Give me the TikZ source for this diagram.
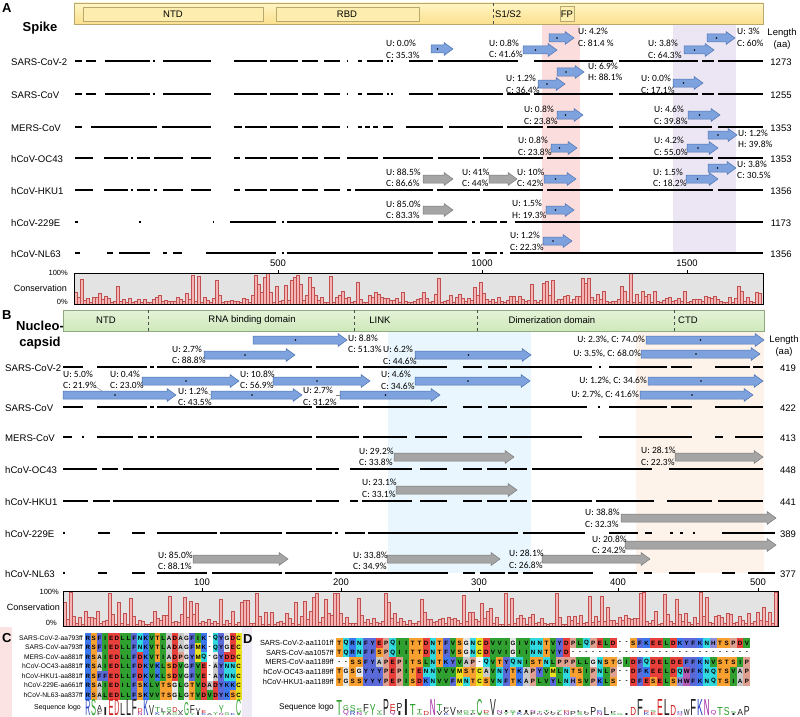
\documentclass[tikz,border=0pt]{standalone}
\usepackage{fontspec}
\setmainfont{Liberation Sans}
\newfontfamily\carl{Carlito}
\usepackage{graphicx}
\definecolor{ytop}{HTML}{FFF5C4}
\definecolor{ybot}{HTML}{FBE08E}
\definecolor{yb}{HTML}{B8A870}
\definecolor{gtop}{HTML}{E4F3D8}
\definecolor{gbot}{HTML}{CFE8BC}
\definecolor{gb}{HTML}{90A880}
\definecolor{shred}{HTML}{FCDDDD}
\definecolor{shpur}{HTML}{ECE6F4}
\definecolor{shblu}{HTML}{E9F6FD}
\definecolor{shora}{HTML}{FDF3EB}
\definecolor{arblue}{HTML}{7EA2DD}
\definecolor{arblueb}{HTML}{4C72B0}
\definecolor{argray}{HTML}{A5A5A5}
\definecolor{argrayb}{HTML}{7A7A7A}
\definecolor{cbf}{HTML}{F5B5B5}
\definecolor{cbd}{HTML}{C05050}
\definecolor{cbox}{HTML}{E3E3E3}
\definecolor{stripC}{HTML}{FBE3E3}
\definecolor{stripD}{HTML}{EEEAF5}
% residue colours
\definecolor{aaD}{HTML}{E8403A}\definecolor{aaE}{HTML}{E8403A}
\definecolor{aaC}{HTML}{E8E020}\definecolor{aaM}{HTML}{E8E020}
\definecolor{aaK}{HTML}{3C78F0}\definecolor{aaR}{HTML}{3C78F0}
\definecolor{aaS}{HTML}{F8A030}\definecolor{aaT}{HTML}{F8A030}
\definecolor{aaF}{HTML}{5A6AD8}\definecolor{aaY}{HTML}{5A6AD8}
\definecolor{aaN}{HTML}{30D8E0}\definecolor{aaQ}{HTML}{30D8E0}
\definecolor{aaG}{HTML}{E6E6E6}
\definecolor{aaL}{HTML}{30A030}\definecolor{aaV}{HTML}{30A030}\definecolor{aaI}{HTML}{30A030}
\definecolor{aaA}{HTML}{C8C8C8}
\definecolor{aaW}{HTML}{B45AB4}
\definecolor{aaH}{HTML}{8C8CD8}
\definecolor{aaP}{HTML}{E0A090}
% logo colours
\definecolor{lgG}{HTML}{2CA02C}
\definecolor{lgP}{HTML}{A020A0}
\definecolor{lgB}{HTML}{2040C0}
\definecolor{lgR}{HTML}{D02020}
\definecolor{lgK}{HTML}{202020}
\newcounter{nn}
\newcommand\ul[4]{\stepcounter{nn}\node[ulab,anchor=west] (u\thenn) at (#1,#2) {#3\\#4};}
\newcommand\uls[3]{\stepcounter{nn}\node[ulab,anchor=east] (u\thenn) at (#1,#2) {#3};}
\newcommand\segs[2]{\foreach \a/\b in {#2} {\draw[segline] (\a,#1) -- (\b,#1);}}
\newcommand\barw[4]{\draw[#1] (#2,#4-4) -- (#3-9,#4-4) -- (#3-9,#4-6.5) -- (#3,#4) -- (#3-9,#4+6.5) -- (#3-9,#4+4) -- (#2,#4+4) -- cycle;}
\newcommand\bstar[3]{\fill ({(#1+#2-9)/2},#3) circle (0.8);}
\newcommand\seqrow[4]{\def\sqx{#1}\def\sqy{#2}\def\sqw{#3}\def\sqi{0}\sqloop#4\relax}
\def\sqloop#1{\ifx\relax#1\else\sqcell{#1}\expandafter\sqloop\fi}
\def\sqcell#1{%
 \pgfmathsetmacro\sqcx{\sqx+\sqi*\sqw}%
 \if-#1\relax\else\fill[aa#1] (\sqcx,\sqy-4.75) rectangle ++(\sqw,9.5);\fi
 \node[cellt] at (\sqcx+\sqw/2,\sqy) {#1};%
 \pgfmathsetmacro\sqi{\sqi+1}}
\newcommand\lgl[6]{\node[inner sep=0,anchor=south,text=#5] at (#1,#2) {\resizebox{#6pt}{#3pt}{#4}};}
\begin{document}
\begin{tikzpicture}[x=1pt,y=-1pt,
 segline/.style={line width=2pt},
 blu/.style={fill=arblue,draw=arblueb,line width=0.5pt},
 gry/.style={fill=argray,draw=argrayb,line width=0.5pt},
 ulab/.style={font=\carl\fontsize{9.5}{11.5}\selectfont,align=left,inner sep=0},
 rowl/.style={font=\fontsize{9.6}{10}\selectfont,inner sep=0,anchor=west},
 lenl/.style={font=\fontsize{9.5}{10}\selectfont,inner sep=0},
 axl/.style={font=\fontsize{9.5}{10}\selectfont,inner sep=0},
 pct/.style={font=\fontsize{7.5}{9}\selectfont,inner sep=0,anchor=east},
 consl/.style={font=\fontsize{9}{10}\selectfont,inner sep=0,anchor=east},
 domt/.style={font=\fontsize{9.5}{11}\selectfont,inner sep=0},
 panl/.style={font=\bfseries\fontsize{13}{14}\selectfont,inner sep=0,anchor=west},
 titl/.style={font=\bfseries\fontsize{13}{15.5}\selectfont,inner sep=0,align=center},
 cellt/.style={font=\bfseries\fontsize{6.2}{6}\selectfont,inner sep=0},
 seql/.style={font=\fontsize{6.7}{8}\selectfont,inner sep=0,anchor=east},
 seqlD/.style={font=\fontsize{7.4}{8}\selectfont,inner sep=0,anchor=east}]
\useasboundingbox (0,0) rectangle (800,717);
\fill[white] (0,0) rectangle (800,717);

%================ PANEL A =================
\fill[shred] (542,24) rectangle (580,252);
\fill[shpur] (673,24) rectangle (736,252);
\node[panl] (pA) at (2,8) {A};
\node[titl] (spike) at (40,28) {Spike};
\draw[draw=yb,top color=ytop,bottom color=ybot] (74,3) rectangle (763,24);
\draw[draw=yb,fill=ytop!60!ybot] (83,7) rectangle (263,21);
\draw[draw=yb,fill=ytop!60!ybot] (276,7) rectangle (419,21);
\draw[draw=yb,fill=ytop!60!ybot] (560,6) rectangle (574,21);
\draw[dashed,black!70] (493,3) -- (493,24);
\node[domt] (ntdA) at (173,14) {NTD};
\node[domt] (rbdA) at (347,14) {RBD};
\node[domt,anchor=west] (s12) at (495,14) {S1/S2};
\node[domt] (fpA) at (567,14) {FP};
\node[lenl] (lenA1) at (782,33) {Length};
\node[lenl] (lenA2) at (782,45) {(aa)};

\segs{61}{75/82,86/96,105/150,153/155,163/211,234/267,270/298,302/318,324/340,346.5/348,358/362,367/383,387/389,391/393,409/433,438/518,534/613,619/698,702/714,718/763}
\segs{94}{75/82,86/96,105/150,153/155,163/211,234/267,270/298,302/318,324/340,346.5/348,358/362,367/383,387/389,391/393,409/433,438/503,507/530,534/613,619/698,702/714,718/763}
\segs{127}{75/82,91/157,162/211,234/242,245/267,270/298,302/318,322/340,346.5/348,358/362,365/370,373/378,383/393,406/443,449/503,507/543,547/613,619/712,718/763}
\segs{158}{75/93,104/128,131/133,137/150,154/183,191/211,234/240,245/267,270/298,302/318,324/340,347/378,383/433,438/480,483/543,547/613,619/713,718/763}
\segs{190}{75/93,104/128,131/133,137/150,154/157,163/183,191/211,234/240,245/267,270/298,302/318,324/340,347/351,355/433,437/480,483/543,547/613,619/713,718/763}
\segs{222}{75/78,139/141,212.5/214,230/276,282/284,287/433,438/467,472/475,480/497,500/507,515/763}
\segs{253}{75/80,107/113,119/150,163/167,173/182,206/276,282/284,287/433,438/467,472/480,485/497,500/503,510/763}

\foreach \nm/\yy/\ln in {SARS-CoV-2/61/1273,SARS-CoV/94/1255,MERS-CoV/127/1353,hCoV-OC43/158/1353,hCoV-HKU1/190/1356,hCoV-229E/222/1173,hCoV-NL63/253/1356}{
 \node[rowl] (ra\yy) at (11,\yy+1) {\nm};
 \node[lenl] (la\yy) at (781,\yy+1) {\ln};}

\foreach \xa/\xb/\yy in {431/453/49,523/557/50,549/574/38,684/714/50,707/735/38,538/565/84,557/584/72,673/703/83,557/583/115,688/720/115,551/577/148,687/718/148,708/737/135,544/576/179,686/718/179,708/736/168,546/574/210,543/572/241}{
 \barw{blu}{\xa}{\xb}{\yy}\bstar{\xa}{\xb}{\yy}}
\foreach \xa/\xb/\yy in {423/453/179,489/517/179,423/453/210}{\barw{gry}{\xa}{\xb}{\yy}}

\ul{386}{49.5}{U: 0.0\%}{C: 35.3\%}
\ul{489}{49}{U: 0.8\%}{C: 41.6\%}
\ul{578}{37.5}{U: 4.2\%}{C: 81.4 \%}
\ul{648}{49.5}{U: 3.8\%}{C: 64.3\%}
\ul{737}{37.5}{U: 3\%}{C: 60\%}
\ul{506}{84.5}{U: 1.2\%}{C: 36.4\%}
\ul{588}{72}{U: 6.9\%}{H: 88.1\%}
\ul{641}{84.5}{U: 0.0\%}{C: 17.1\%}
\ul{524}{115.5}{U: 0.8\%}{C: 23.8\%}
\ul{654}{115.5}{U: 4.6\%}{C: 39.8\%}
\ul{518}{146.5}{U: 0.8\%}{C: 23.8\%}
\ul{654}{146.5}{U: 4.2\%}{C: 55.0\%}
\ul{738}{139}{U: 1.2\%}{H: 39.8\%}
\ul{386}{178}{U: 88.5\%}{C: 86.6\%}
\ul{462}{178}{U: 41\%}{C: 44\%}
\ul{517}{178}{U: 10\%}{C: 42\%}
\ul{653}{178}{U: 1.5\%}{C: 18.2\%}
\ul{737}{170}{U: 3.8\%}{C: 30.5\%}
\ul{386}{210}{U: 85.0\%}{C: 83.3\%}
\ul{512}{209.5}{U: 1.5\%}{H: 19.3\%}
\ul{510}{241.5}{U: 1.2\%}{C: 22.3\%}

% axis + conservation A
\foreach \xx/\tt in {278/500,482/1000,687/1500}{
 \node[axl] (axa\tt) at (\xx,263) {\tt};
 \draw (\xx,270) -- (\xx,273);}
\fill[cbox] (74,273) rectangle (763,304);
\pgfmathsetseed{11}
\foreach \i in {0,...,228}{
 \pgfmathsetmacro\xx{74+3*\i}
 \pgfmathsetmacro\ra{rnd}\pgfmathsetmacro\rb{rnd}
 \pgfmathsetmacro\pt{0.09+0.3*(\xx>245)*(\xx<330)}
 \pgfmathsetmacro\hh{ifthenelse(\ra<\pt,0.55+0.45*\rb,0.06+0.36*\rb*\rb)}
 \filldraw[fill=cbf,draw=cbd,line width=0.4pt] (\xx,304) rectangle (\xx+3,304-31*\hh);}
\draw[black,line width=0.6pt] (74,273) rectangle (763,304);
\node[pct] (pA100) at (68,273) {100\%};
\node[consl] (consA) at (67,288) {Conservation};
\node[pct] (pA0) at (68,302) {0\%};

%================ PANEL B =================
\fill[shblu] (388,331) rectangle (531,573);
\fill[shora] (636,331) rectangle (764,573);
\node[panl] (pB) at (2,315) {B};
\node[titl] (nuc) at (40,335) {Nucleo-\\capsid};
\draw[draw=gb,top color=gtop,bottom color=gbot] (63,310) rectangle (764,331);
\foreach \xx in {148,354,477,674}{\draw[dashed,black!70] (\xx,310) -- (\xx,331);}
\node[domt] (ntdB) at (106,320.5) {NTD};
\node[domt] (rnaB) at (252,320.5) {RNA binding domain};
\node[domt] (linkB) at (380,320.5) {LINK};
\node[domt] (dimB) at (552,320.5) {Dimerization domain};
\node[domt,anchor=west] (ctdB) at (678,320.5) {CTD};
\node[lenl] (lenB1) at (784,340) {Length};
\node[lenl] (lenB2) at (784,352) {(aa)};

\segs{367}{63/83,97/147,150/154,157/312,316/359,363/447,463/482,488/507,510/592,599/601,609/667,671/692,715/750,753/763}
\segs{407}{63/83,97/147,150/154,157/312,316/359,363/447,463/482,488/507,510/587,598/600,609/667,671/692,715/763}
\segs{437}{63/72,82/84,97/133,138/147,150/154,157/312,316/359,363/407,415/447,463/482,488/507,510/582,599/692,715/723,735/763}
\segs{469}{63/97,102/118,123/312,316/339,350/412,420/447,463/482,487/507,510/527,532/652,669/763}
\segs{501}{63/88,93/110,113/312,316/339,350/358,362/412,420/447,463/482,487/507,510/527,532/592,596/654,667/712,718/763}
\segs{533}{63/65,98/110,132/145,157/217,220/282,286/332,335/338,345/365,368/518,523/585,609/638,645/652,670/673,680/683,693/695,722/775}
\segs{573}{63/65,98/107,132/145,157/207,212/282,285/332,335/448,463/475,480/505,508/518,523/593,609/637,644/652,669/695,722/735,748/775}

\foreach \nm/\yy/\ln in {SARS-CoV-2/367/419,SARS-CoV/407/422,MERS-CoV/437/413,hCoV-OC43/469/448,hCoV-HKU1/501/441,hCoV-229E/533/389,hCoV-NL63/573/377}{
 \node[rowl] (rb\yy) at (5,\yy+1) {\nm};
 \node[lenl] (lb\yy) at (788,\yy+1) {\ln};}

\foreach \xa/\xb/\yy in {253/347/340,204/295/355,415/531/355,646/764/340,641/760/354,63/176/395,142/239/381,273/370/381,211/302/395,340/440/395,415/530/381,648/763/381,640/753/395}{
 \barw{blu}{\xa}{\xb}{\yy}\bstar{\xa}{\xb}{\yy}}
\foreach \xa/\xb/\yy in {394/514/457,675/763/457,396/517/490,621/776/518,193/288/559,387/500/559,542/650/559,625/776/545}{\barw{gry}{\xa}{\xb}{\yy}}

\ul{348}{344}{U: 8.8\%}{C: 51.3\%}
\ul{172}{355}{U: 2.7\%}{C: 88.8\%}
\ul{383}{355.5}{U: 6.2\%}{C: 44.6\%}
\uls{645}{340}{U: 2.3\%, C: 74.0\%}
\uls{641}{354}{U: 3.5\%, C: 68.0\%}
\ul{63}{380}{U: 5.0\%}{C: 21.9\%}
\ul{110}{380}{U: 0.4\%}{C: 23.0\%}
\ul{240}{380}{U: 10.8\%}{C: 56.9\%}
\ul{381}{380.5}{U: 4.6\%}{C: 34.6\%}
\ul{178}{397}{U: 1.2\%}{C: 43.5\%}
\ul{303}{396.5}{U: 2.7\%}{C: 31.2\%}
\uls{647}{381}{U: 1.2\%, C: 34.6\%}
\uls{639}{395}{U: 2.7\%, C: 41.6\%}
\draw[black!50,line width=0.4pt] (96,387) -- (102,391);
\draw[black!50,line width=0.4pt] (336,395) -- (340,395);
\draw[black!50,line width=0.4pt] (207,393) -- (211,395);
\ul{359}{457}{U: 29.2\%}{C: 33.8\%}
\ul{641}{456.5}{U: 28.1\%}{C: 22.3\%}
\ul{362}{488.5}{U: 23.1\%}{C: 33.1\%}
\ul{585}{518.5}{U: 38.8\%}{C: 32.3\%}
\ul{158}{561}{U: 85.0\%}{C: 88.1\%}
\ul{353}{561}{U: 33.8\%}{C: 34.9\%}
\ul{509}{559.5}{U: 28.1\%}{C: 26.8\%}
\ul{592}{545}{U: 20.8\%}{C: 24.2\%}

% axis + conservation B
\foreach \xx/\tt in {202/100,341/200,479/300,618/400,758/500}{
 \node[axl] (axb\tt) at (\xx,582) {\tt};
 \draw (\xx,588) -- (\xx,591);}
\fill[cbox] (63,591) rectangle (778,626);
\pgfmathsetseed{23}
\foreach \i in {0,...,237}{
 \pgfmathsetmacro\xx{63+3*\i}
 \pgfmathsetmacro\ra{rnd}\pgfmathsetmacro\rb{rnd}
 \pgfmathsetmacro\hh{ifthenelse(\ra<0.13,0.5+0.5*\rb,0.06+0.36*\rb*\rb)}
 \filldraw[fill=cbf,draw=cbd,line width=0.4pt] (\xx,626) rectangle (\xx+3,626-35*\hh);}
\draw[black,line width=0.6pt] (63,591) rectangle (778,626);
\node[pct] (pB100) at (59,592) {100\%};
\node[consl] (consB) at (60,607) {Conservation};
\node[pct] (pB0) at (57,623) {0\%};

%================ PANEL C =================
\fill[stripC] (0,627) rectangle (12,717);
\node[panl] (pC) at (2,638) {C};
\foreach \nm/\yy in {SARS-CoV-2-aa793ff/638,SARS-CoV-aa793ff/647.5,MERS-CoV-aa881ff/657,hCoV-OC43-aa881ff/666.5,hCoV-HKU1-aa881ff/676,hCoV-229E-aa661ff/685.5,hCoV-NL63-aa837ff/695}{
 \node[seql] (cl\yy) at (83,\yy) {\nm};}
\seqrow{85}{638}{5.8}{RSFIEDLLFNKVTLADAGFIK-QYGDC}
\seqrow{85}{647.5}{5.8}{RSFIEDLLFNKVTLADAGFMK-QYGEC}
\seqrow{85}{657}{5.8}{RSAIEDLLFDKVTIADPGYMQ-GYDDC}
\seqrow{85}{666.5}{5.8}{RSAIEDLLFDKVKLSDVGFVE-AYNNC}
\seqrow{85}{676}{5.8}{RSFFEDLLFDKVKLSDVGFVE-AYNNC}
\seqrow{85}{685.5}{5.8}{RSAIEDILFSKLVTSGLGTVDADYKKC}
\seqrow{85}{695}{5.8}{RSALEDLLFSKVVTSGLGTVDVDYKSC}
\node[seql,font=\fontsize{7}{8}\selectfont] (clogo) at (81,708) {Sequence logo};
\foreach \i/\L/\h/\o/\c in {0/R/16/0/lgB,1/S/16/0/lgG,2/F/4/0/lgK,2/A/6/4/lgK,3/I/8/0/lgK,4/E/16/0/lgR,5/D/16/0/lgR,6/L/12/0/lgK,7/L/16/0/lgK,8/F/16/0/lgK,9/N/3/0/lgP,9/D/4/3/lgR,10/K/16/0/lgB,11/V/10/0/lgK,12/K/3/0/lgB,12/T/5/3/lgG,13/T/3/0/lgG,13/L/4/3/lgK,14/A/3/0/lgK,14/S/5/3/lgG,15/G/3/0/lgG,15/D/5/3/lgR,16/A/2/0/lgK,16/V/3/2/lgK,17/G/13/0/lgG,18/Y/2/0/lgG,18/F/8/2/lgK,19/I/3/0/lgK,19/V/4/3/lgK,20/K/2/0/lgB,20/E/3/2/lgR,21/A/2/0/lgK,22/Y/3/0/lgG,23/N/2/0/lgP,23/Y/8/2/lgG,24/G/3/0/lgG,25/K/2/0/lgB,26/C/16/0/lgG}{
 \lgl{85+5.8*\i+2.9}{716-\o}{\h}{\L}{\c}{5.0}}

%================ PANEL D =================
\fill[stripD] (242,627) rectangle (252,717);
\node[panl] (pD) at (243,639) {D};
\foreach \nm/\yy in {SARS-CoV-2-aa1101ff/643,SARS-CoV-aa1057ff/652.6,MERS-CoV-aa1189ff/662.2,hCoV-OC43-aa1189ff/671.8,hCoV-HKU1-aa1189ff/681.4}{
 \node[seqlD] (dl\yy) at (334,\yy) {\nm};}
\seqrow{336}{643}{6.68}{TQRNFYEPQIITTDNTFVSGNCDVVIGIVNNTVYDPLQPELD--SFKEELDKYFKNHTSPDV}
\seqrow{336}{652.6}{6.68}{TQRNFFSPQIITTDNTFVSGNCDVVIGIINNTVYD---------------------------}
\seqrow{336}{662.2}{6.68}{--SSFYAPEPITSLNTKYVAP-QVTYQNISTNLPPPLLGNSTGIDFQDELDEFFKNVSTSIP}
\seqrow{336}{671.8}{6.68}{TGSGYYYPEPITENNVVVMSTCAVNYTKAPYVMLNTSIPNLP--DFKEELDQWFKNQTSVAP}
\seqrow{336}{681.4}{6.68}{TGSSYYYPEPISDKNVVFMNTCSVNFTKAPLVYLNHSVPKLS--DFESELSHWFKNQTSIAP}
\node[seqlD,font=\fontsize{8.2}{9}\selectfont] (dlogo) at (334,707) {Sequence logo};
\foreach \i/\L/\h/\o/\c in {1/T/15/0/lgG,2/Q/5/0/lgP,2/G/5/5/lgG,3/R/4/0/lgB,3/S/6/4/lgG,4/N/3/0/lgP,4/S/4/3/lgG,5/Y/4/0/lgG,5/F/7/4/lgK,6/Y/11/0/lgG,7/S/2/0/lgG,7/Y/3/2/lgG,8/P/16/0/lgK,9/Q/4/0/lgP,9/E/7/4/lgR,10/I/4/0/lgK,10/P/8/4/lgK,11/I/16/0/lgK,12/T/11/0/lgG,13/S/2/0/lgG,13/T/4/2/lgG,14/D/4/0/lgR,15/N/16/0/lgP,16/V/4/0/lgK,16/T/7/4/lgG,17/K/2/0/lgB,17/V/3/2/lgK,17/F/3/5/lgK,18/V/8/0/lgK,19/S/2/0/lgG,19/M/3/2/lgK,20/S/2/0/lgG,20/G/3/2/lgG,21/P/2/0/lgK,21/T/3/2/lgG,22/C/16/0/lgG,23/S/2/0/lgG,23/D/3/2/lgR,24/V/16/0/lgK,25/V/2/0/lgK,25/N/3/2/lgP,26/Y/3/0/lgG,26/I/2/3/lgK,27/T/3/0/lgG,27/G/2/3/lgG,28/K/3/0/lgB,28/I/2/3/lgK,29/A/3/0/lgK,29/I/2/3/lgK,30/P/3/0/lgK,30/N/2/3/lgP,31/N/2/0/lgP,31/T/2/2/lgG,32/V/3/0/lgK,32/T/2/3/lgG,33/V/2/0/lgK,33/L/2/2/lgK,34/L/3/0/lgK,34/Y/2/3/lgG,35/N/3/0/lgP,35/D/2/3/lgR,36/P/4/0/lgK,37/S/3/0/lgG,37/L/2/3/lgK,38/V/2/0/lgK,38/L/2/2/lgK,39/P/8/0/lgK,40/N/3/0/lgP,40/K/2/3/lgB,41/L/8/0/lgK,42/S/2/0/lgG,42/P/2/2/lgK,43/G/2/0/lgG,44/I/2/0/lgK,45/D/8/0/lgR,46/F/16/0/lgK,47/K/3/0/lgB,47/E/2/3/lgR,48/E/3/0/lgR,48/S/2/3/lgG,49/E/16/0/lgR,50/L/16/0/lgK,51/D/10/0/lgR,52/Q/2/0/lgP,52/H/2/2/lgB,53/W/6/0/lgK,54/F/16/0/lgK,55/K/16/0/lgB,56/N/16/0/lgP,57/Q/4/0/lgP,58/T/8/0/lgG,59/S/8/0/lgG,60/I/2/0/lgK,60/S/2/2/lgG,61/A/6/0/lgK,62/P/9/0/lgK}{
 \lgl{336+6.68*\i-3.34}{716-\o}{\h}{\L}{\c}{5.8}}
\end{tikzpicture}
\end{document}
